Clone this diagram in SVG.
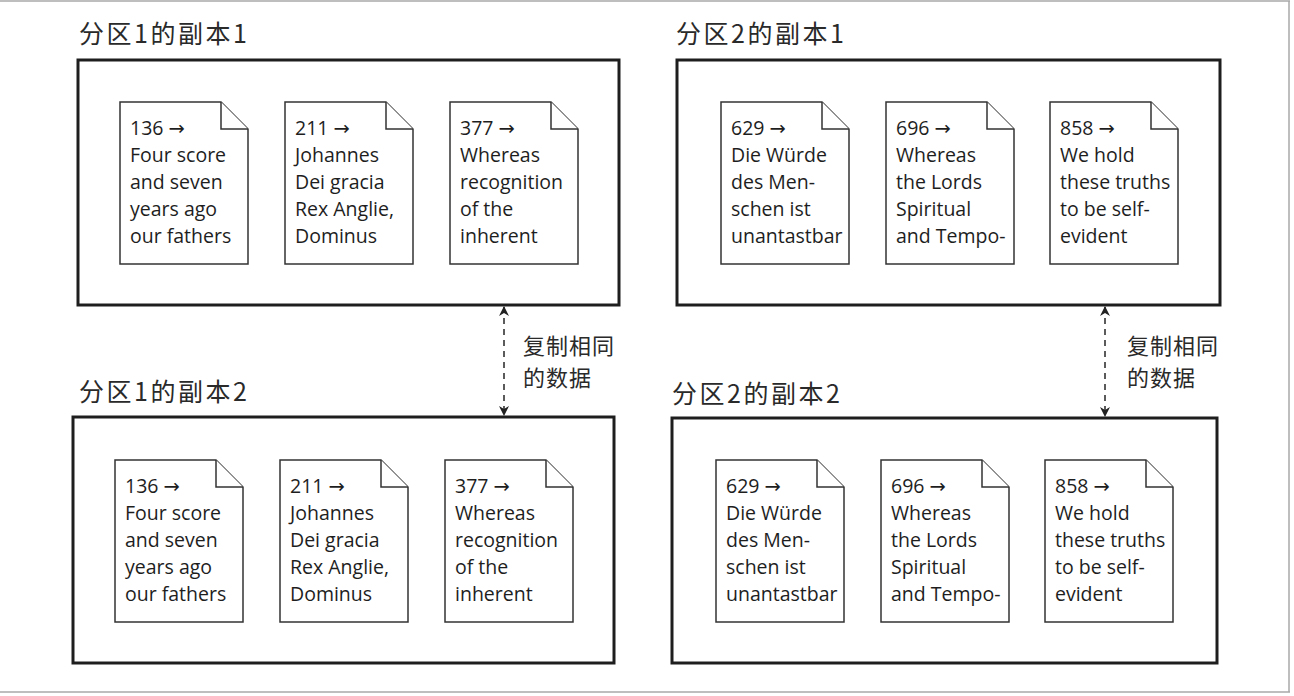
<svg xmlns="http://www.w3.org/2000/svg" width="1294" height="696" viewBox="0 0 1294 696">
<defs>
<style>
.frame{stroke:#a8a8a8;stroke-width:1.5;fill:none}
.box{fill:none;stroke:#1e1e1e;stroke-width:3}
.doc{fill:#fff;stroke:#333;stroke-width:1.5;stroke-linejoin:miter}
.title{font-family:"Noto Sans CJK SC","Noto Sans",sans-serif;font-size:25px;fill:#2a2a2a;letter-spacing:2.5px}
.lbl{font-family:"Noto Sans CJK SC","Noto Sans",sans-serif;font-size:22px;fill:#2a2a2a;letter-spacing:1px}
.dt{font-family:"Open Sans","Noto Sans","DejaVu Sans",sans-serif;font-size:19.5px;fill:#1e1e1e}
.conn{stroke:#333;stroke-width:1.6;stroke-dasharray:6 5;fill:none}
</style>
<marker id="ah" viewBox="0 0 10 10" refX="9" refY="5" markerWidth="10" markerHeight="10" markerUnits="userSpaceOnUse" orient="auto-start-reverse">
<path d="M0,0 L10,5 L0,10 L3,5 Z" fill="#222"/>
</marker>
<g id="docshape">
<path class="doc" d="M0,0 H101 L128,27 V162 H0 Z"/>
<path class="doc" d="M101,0 V27 H128" fill="none"/>
</g>
</defs>
<rect width="1294" height="696" fill="#fff"/>
<g id="frame">
<line class="frame" x1="0" y1="1" x2="1290" y2="1"/>
<line class="frame" x1="1289" y1="1" x2="1289" y2="692"/>
<line class="frame" x1="0" y1="692" x2="1290" y2="692"/>
</g>

<g id="p1r1">
<text class="title" x="79" y="43">分区1的副本1</text>
<rect class="box" x="78" y="60" width="541" height="245"/>
<g transform="translate(120,102)"><use href="#docshape"/>
<text class="dt"><tspan x="10" y="33">136 →</tspan><tspan x="10" y="60">Four score</tspan><tspan x="10" y="87">and seven</tspan><tspan x="10" y="114">years ago</tspan><tspan x="10" y="141">our fathers</tspan></text></g>
<g transform="translate(285,102)"><use href="#docshape"/>
<text class="dt"><tspan x="10" y="33">211 →</tspan><tspan x="10" y="60">Johannes</tspan><tspan x="10" y="87">Dei gracia</tspan><tspan x="10" y="114">Rex Anglie,</tspan><tspan x="10" y="141">Dominus</tspan></text></g>
<g transform="translate(450,102)"><use href="#docshape"/>
<text class="dt"><tspan x="10" y="33">377 →</tspan><tspan x="10" y="60">Whereas</tspan><tspan x="10" y="87">recognition</tspan><tspan x="10" y="114">of the</tspan><tspan x="10" y="141">inherent</tspan></text></g>
</g>

<g id="p1r2">
<text class="title" x="79" y="401">分区1的副本2</text>
<rect class="box" x="73" y="417" width="541" height="246"/>
<g transform="translate(115,460)"><use href="#docshape"/>
<text class="dt"><tspan x="10" y="33">136 →</tspan><tspan x="10" y="60">Four score</tspan><tspan x="10" y="87">and seven</tspan><tspan x="10" y="114">years ago</tspan><tspan x="10" y="141">our fathers</tspan></text></g>
<g transform="translate(280,460)"><use href="#docshape"/>
<text class="dt"><tspan x="10" y="33">211 →</tspan><tspan x="10" y="60">Johannes</tspan><tspan x="10" y="87">Dei gracia</tspan><tspan x="10" y="114">Rex Anglie,</tspan><tspan x="10" y="141">Dominus</tspan></text></g>
<g transform="translate(445,460)"><use href="#docshape"/>
<text class="dt"><tspan x="10" y="33">377 →</tspan><tspan x="10" y="60">Whereas</tspan><tspan x="10" y="87">recognition</tspan><tspan x="10" y="114">of the</tspan><tspan x="10" y="141">inherent</tspan></text></g>
</g>

<g id="p2r1">
<text class="title" x="676" y="43">分区2的副本1</text>
<rect class="box" x="677" y="60" width="543" height="245"/>
<g transform="translate(721,102)"><use href="#docshape"/>
<text class="dt"><tspan x="10" y="33">629 →</tspan><tspan x="10" y="60">Die Würde</tspan><tspan x="10" y="87">des Men-</tspan><tspan x="10" y="114">schen ist</tspan><tspan x="10" y="141">unantastbar</tspan></text></g>
<g transform="translate(886,102)"><use href="#docshape"/>
<text class="dt"><tspan x="10" y="33">696 →</tspan><tspan x="10" y="60">Whereas</tspan><tspan x="10" y="87">the Lords</tspan><tspan x="10" y="114">Spiritual</tspan><tspan x="10" y="141">and Tempo-</tspan></text></g>
<g transform="translate(1050,102)"><use href="#docshape"/>
<text class="dt"><tspan x="10" y="33">858 →</tspan><tspan x="10" y="60">We hold</tspan><tspan x="10" y="87">these truths</tspan><tspan x="10" y="114">to be self-</tspan><tspan x="10" y="141">evident</tspan></text></g>
</g>

<g id="p2r2">
<text class="title" x="672" y="403">分区2的副本2</text>
<rect class="box" x="672" y="418" width="545" height="245"/>
<g transform="translate(716,460)"><use href="#docshape"/>
<text class="dt"><tspan x="10" y="33">629 →</tspan><tspan x="10" y="60">Die Würde</tspan><tspan x="10" y="87">des Men-</tspan><tspan x="10" y="114">schen ist</tspan><tspan x="10" y="141">unantastbar</tspan></text></g>
<g transform="translate(881,460)"><use href="#docshape"/>
<text class="dt"><tspan x="10" y="33">696 →</tspan><tspan x="10" y="60">Whereas</tspan><tspan x="10" y="87">the Lords</tspan><tspan x="10" y="114">Spiritual</tspan><tspan x="10" y="141">and Tempo-</tspan></text></g>
<g transform="translate(1045,460)"><use href="#docshape"/>
<text class="dt"><tspan x="10" y="33">858 →</tspan><tspan x="10" y="60">We hold</tspan><tspan x="10" y="87">these truths</tspan><tspan x="10" y="114">to be self-</tspan><tspan x="10" y="141">evident</tspan></text></g>
</g>

<g id="connectors">
<line class="conn" x1="504" y1="307" x2="504" y2="415" marker-start="url(#ah)" marker-end="url(#ah)"/>
<line class="conn" x1="1105" y1="307" x2="1105" y2="416" marker-start="url(#ah)" marker-end="url(#ah)"/>
</g>
<g id="labels">
<text class="lbl"><tspan x="523" y="354">复制相同</tspan><tspan x="523" y="386">的数据</tspan></text>
<text class="lbl"><tspan x="1127" y="354">复制相同</tspan><tspan x="1127" y="386">的数据</tspan></text>
</g>
</svg>
